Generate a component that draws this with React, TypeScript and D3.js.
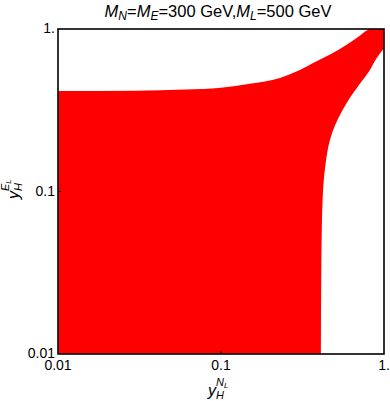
import React, { useEffect, useRef } from 'react';
import * as d3 from 'd3';

// log-log axes
const xDomain = [0.01, 1];
const yDomain = [0.01, 1];
const tickValues = [0.01, 0.1, 1];
const tickLabels = ['0.01', '0.1', '1.'];

// upper edge of the allowed region: [yHNL, yHEL]
const upperEdge: [number, number][] = [
    [0.01, 0.415], [0.03, 0.417], [0.06, 0.424], [0.1, 0.435], [0.15, 0.46],
    [0.23, 0.5], [0.3, 0.555], [0.37, 0.62], [0.47, 0.7], [0.59, 0.8],
    [0.7, 0.9], [0.8, 0.99], [0.82, 1],
];

// inner (right) edge, from the top-right corner down to the bottom
const innerEdge: [number, number][] = [
    [1, 0.76], [0.9, 0.66], [0.82, 0.56], [0.7, 0.45], [0.59, 0.35],
    [0.48, 0.229], [0.435, 0.14], [0.42, 0.089], [0.415, 0.056], [0.412, 0.03], [0.41, 0.01],
];

export default function App() {
    const ref = useRef<SVGSVGElement>(null);

    useEffect(() => {
        const svg = d3.select(ref.current);
        svg.selectAll('*').remove();

        const margin = { top: 29, left: 58, bottom: 47, right: 6 };
        const width = 390, height = 401;

        const x = d3.scaleLog().domain(xDomain).range([margin.left, width - margin.right]);
        const y = d3.scaleLog().domain(yDomain).range([height - margin.bottom, margin.top]);

        const upper = d3.line<[number, number]>()
            .x(d => x(d[0])).y(d => y(d[1]))
            .curve(d3.curveMonotoneX)(upperEdge) as string;
        const inner = d3.line<[number, number]>()
            .x(d => x(d[0])).y(d => y(d[1]))
            .curve(d3.curveMonotoneY)(innerEdge) as string;

        const path = `M${x(0.01)},${y(0.01)}` + upper.replace(/^M/, 'L')
            + `L${x(1)},${y(1)}` + inner.replace(/^M/, 'L') + 'Z';

        svg.append('path')
            .attr('d', path)
            .attr('fill', '#ff0000');

        // frame
        svg.append('rect')
            .attr('x', x(0.01)).attr('y', y(1))
            .attr('width', x(1) - x(0.01)).attr('height', y(0.01) - y(1))
            .attr('fill', 'none').attr('stroke', '#000').attr('stroke-width', 1.6);

        // small inward ticks at 0.1
        svg.append('line')
            .attr('x1', x(0.1)).attr('x2', x(0.1))
            .attr('y1', y(0.01)).attr('y2', y(0.01) - 3)
            .attr('stroke', '#000');
        svg.append('line')
            .attr('x1', x(0.01)).attr('x2', x(0.01) + 3)
            .attr('y1', y(0.1)).attr('y2', y(0.1))
            .attr('stroke', '#000');

        const font = 'Liberation Sans, Arial, sans-serif';

        // tick labels
        tickValues.forEach((v, i) => {
            svg.append('text')
                .attr('x', x(v)).attr('y', y(0.01) + 16)
                .attr('text-anchor', 'middle')
                .attr('font-family', font).attr('font-size', 14)
                .text(tickLabels[i]);
            svg.append('text')
                .attr('x', x(0.01) - 3).attr('y', y(v) + 4)
                .attr('text-anchor', 'end')
                .attr('font-family', font).attr('font-size', 14)
                .text(tickLabels[i]);
        });

        // title
        const title = svg.append('text')
            .attr('x', 218).attr('y', 17)
            .attr('text-anchor', 'middle')
            .attr('font-family', font).attr('font-size', 16.5);
        const sub = (t: d3.Selection<SVGTextElement, unknown, null, undefined>, base: string, s: string) => {
            t.append('tspan').attr('font-style', 'italic').text(base);
            t.append('tspan').attr('font-style', 'italic').attr('font-size', 12).attr('dy', 3).text(s);
        };
        sub(title, 'M', 'N');
        title.append('tspan').attr('dy', -3).text('=');
        sub(title, 'M', 'E');
        title.append('tspan').attr('dy', -3).text('=300 GeV,');
        sub(title, 'M', 'L');
        title.append('tspan').attr('dy', -3).text('=500 GeV');

        // axis labels
        const axisLabel = (t: d3.Selection<SVGTextElement, unknown, null, undefined>, sup: string) => {
            t.append('tspan').attr('font-style', 'italic').text('y');
            t.append('tspan').attr('font-style', 'italic').attr('font-size', 11).attr('dy', 3).text('H');
            t.append('tspan').attr('font-style', 'italic').attr('font-size', 11).attr('dx', -8).attr('dy', -13).text(sup);
            t.append('tspan').attr('font-style', 'italic').attr('font-size', 8).attr('dy', 2).text('L');
        };
        const xl = svg.append('text')
            .attr('x', 208).attr('y', 396)
            .attr('font-family', font).attr('font-size', 16);
        axisLabel(xl, 'N');

        const yl = svg.append('text')
            .attr('transform', `translate(19,199) rotate(-90)`)
            .attr('font-family', font).attr('font-size', 16);
        axisLabel(yl, 'E');
    }, []);

    return (
        <svg ref={ref} width={390} height={401}
            style={{ position: 'absolute', left: 0, top: 0, background: '#fff' }} />
    );
}
